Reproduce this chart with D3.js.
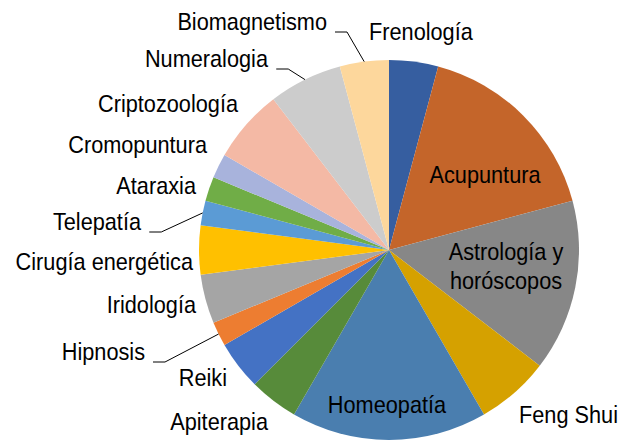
<!DOCTYPE html>
<meta charset="utf-8">
<style>
body { margin: 0; background: #fff; }
svg text { font-family: "Liberation Sans", Arial, sans-serif; font-size: 24px; fill: #000; }
.leader { fill: none; stroke: #000; stroke-width: 1; }
</style>
<svg width="619" height="440"></svg>
<script src="https://d3js.org/d3.v7.min.js"></script>
<script>

// data (clockwise from 12 o'clock)
var categories = ["Frenología", "Acupuntura", "Astrología y horóscopos", "Feng Shui", "Homeopatía",
  "Apiterapia", "Reiki", "Hipnosis", "Iridología", "Cirugía energética", "Telepatía",
  "Ataraxia", "Cromopuntura", "Criptozoología", "Numeralogia", "Biomagnetismo"];
var values = [2, 8, 7, 3, 8, 2, 2, 1, 2, 2, 1, 1, 1, 3, 3, 2];
var colours = ["#365EA0", "#C4652A", "#878787", "#D5A100", "#4A7EAF", "#578B3A", "#4472C4",
  "#ED7D31", "#A5A5A5", "#FFC000", "#5B9BD5", "#70AD47", "#A8B3DC", "#F4B9A5", "#CCCCCC", "#FDD79C"];

// label layout: offset from pie centre (text baseline), anchor, inside?, leader line?
var labelLayout = [
  [-20, -210, "start", false, false],
  [96, -67, "middle", true, false],
  [117, 10, "middle", true, false],
  [130, 173, "start", false, false],
  [-2, 163, "middle", true, false],
  [-121, 180, "end", false, false],
  [-162, 136, "end", false, false],
  [-244, 110, "end", false, true],
  [-193, 63, "end", false, false],
  [-196, 20, "end", false, false],
  [-248, -20, "end", false, true],
  [-193, -56, "end", false, false],
  [-182, -97, "end", false, false],
  [-151, -138, "end", false, false],
  [-121, -183, "end", false, true],
  [-62, -220, "end", false, true]
];

var svg = d3.select("svg"),
    cx = 389, cy = 250, radius = 190,
    sx = 0.905; // text is a bit narrow in the original

var g = svg.append("g").attr("transform", "translate(" + cx + "," + cy + ")");

var pie = d3.pie().sort(null).value(function(d) { return d.value; });
var arc = d3.arc().innerRadius(0).outerRadius(radius);

var data = categories.map(function(c, i) {
  return { name: c, value: values[i], colour: colours[i], layout: labelLayout[i] };
});
var arcs = pie(data);

g.selectAll("path.slice")
  .data(arcs)
  .enter().append("path")
    .attr("class", "slice")
    .attr("d", arc)
    .attr("fill", function(d) { return d.data.colour; });

// labels
var label = g.selectAll("text.label")
  .data(arcs)
  .enter().append("text")
    .attr("class", "label")
    .attr("transform", function(d) {
      return "translate(" + d.data.layout[0] + "," + d.data.layout[1] + ") scale(" + sx + ",1)";
    })
    .attr("text-anchor", function(d) { return d.data.layout[2]; });

label.each(function(d) {
  var t = d3.select(this);
  if (d.data.name == "Astrología y horóscopos") {
    t.append("tspan").attr("x", 0).text("Astrología y");
    t.append("tspan").attr("x", 0).attr("dy", 29).text("horóscopos");
  } else {
    t.text(d.data.name);
  }
});

// leader lines
label.filter(function(d) { return d.data.layout[4]; }).each(function(d) {
  var box = this.getBBox();
  var a = (d.startAngle + d.endAngle) / 2;
  var ex = radius * Math.sin(a), ey = -radius * Math.cos(a);
  var x0 = d.data.layout[0] + (box.x + box.width) * sx + 8, y0 = d.data.layout[1] + 2;
  g.append("polyline")
    .attr("class", "leader")
    .attr("points", [[x0, y0], [x0 + 12, y0], [ex, ey]].map(function(p) { return p.join(","); }).join(" "));
});

</script>
